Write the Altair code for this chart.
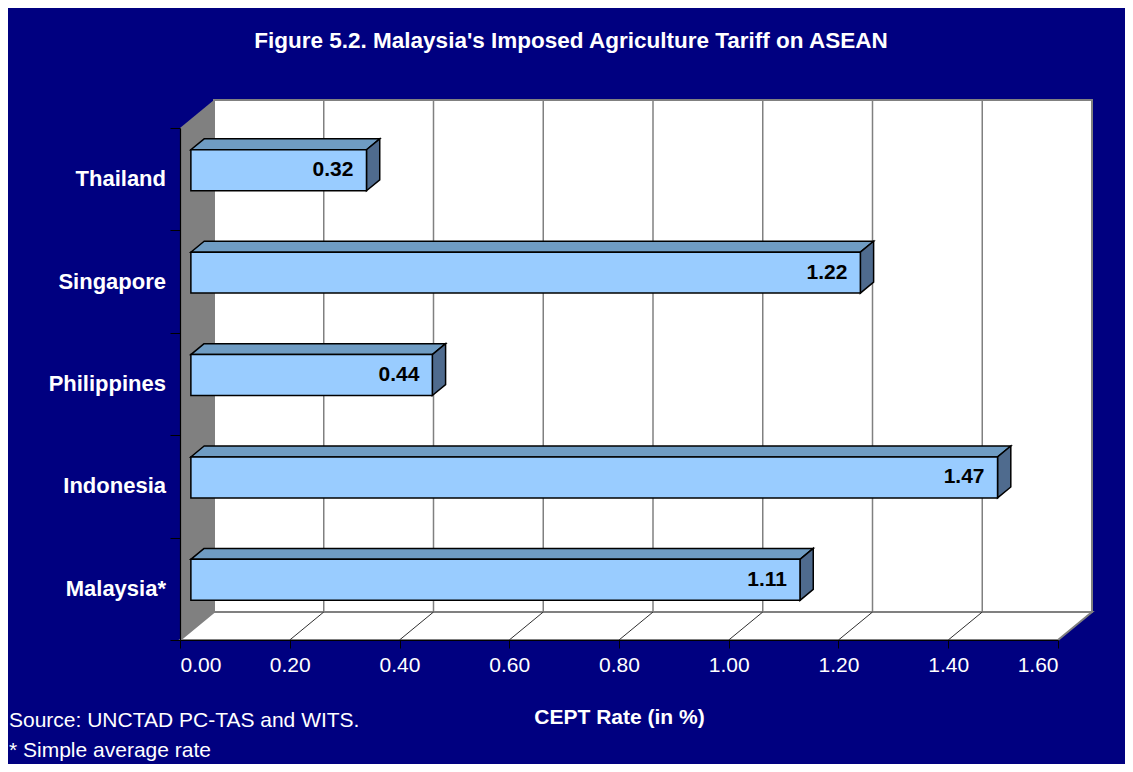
import altair as alt
import pandas as pd

# ---- data (bottom to top) ----
countries = ["Malaysia*", "Indonesia", "Philippines", "Singapore", "Thailand"]
values = [1.11, 1.47, 0.44, 1.22, 0.32]
x_ticks = [0.0, 0.2, 0.4, 0.6, 0.8, 1.0, 1.2, 1.4, 1.6]
title_text = "Figure 5.2. Malaysia's Imposed Agriculture Tariff on ASEAN"
x_title = "CEPT Rate (in %)"
notes = ["Source: UNCTAD PC-TAS and WITS.", "* Simple average rate"]

# ---- layout / style ----
W, H = 878, 512
XMAX = x_ticks[-1]
NCAT = len(countries)
DEPTH_PX = (34, 28)                  # 3-D depth of the plot box, in pixels
DX = DEPTH_PX[0] * XMAX / W          # same depth in data units
DY = DEPTH_PX[1] * NCAT / H
T_FRONT, T_BACK = 0.32, 0.71         # bar front / back depth fractions
HALF = 0.2                           # half bar thickness (category units)
FONT = "Liberation Sans, Arial, sans-serif"
NAVY = "#000080"

xs = alt.Scale(domain=[0, XMAX], nice=False, zero=True)
ys = alt.Scale(domain=[0, NCAT], nice=False, zero=True)

AX_X = alt.Axis(values=x_ticks, format=".2f", grid=False, title=x_title,
                labelColor="white", labelFont=FONT, labelFontSize=21,
                labelPadding=6, tickColor="black", tickSize=8, tickWidth=1,
                domainColor="black", domainWidth=1.2,
                titleColor="white", titleFont=FONT, titleFontSize=21,
                titleFontWeight="bold", titlePadding=31, zindex=1)
AX_Y = alt.Axis(values=list(range(NCAT + 1)), labels=False, grid=False,
                title=None, tickColor="black", tickSize=10, tickWidth=1,
                domainColor="black", domainWidth=1.2, zindex=1)


def X(f="x"):
    return alt.X(f, type="quantitative", scale=xs, axis=AX_X)


def Y(f="y"):
    return alt.Y(f, type="quantitative", scale=ys, axis=AX_Y)


# ---- box: left wall, back wall, floor ----
left_wall = pd.DataFrame({"x": [0, DX], "y": [0, DY], "y2": [NCAT, NCAT + DY]})
back_wall = pd.DataFrame({"x": [DX], "x2": [XMAX + DX], "y": [DY], "y2": [NCAT + DY]})
floor = pd.DataFrame({"y": [0, DY], "x": [0, DX], "x2": [XMAX, XMAX + DX]})
inner = x_ticks[1:-1]
grid_back = pd.DataFrame({"x": [t + DX for t in inner], "y": DY, "y2": NCAT + DY})
grid_floor = pd.DataFrame({"x": inner, "x2": [t + DX for t in inner], "y": 0.0, "y2": DY})

lw = alt.Chart(left_wall).mark_area(orient="vertical", color="#808080").encode(
    x=X(), y=Y(), y2="y2")
bw = alt.Chart(back_wall).mark_rect(fill="white", stroke="#808080", strokeWidth=2).encode(
    x=X(), x2="x2", y=Y(), y2="y2")
fl = alt.Chart(floor).mark_area(orient="horizontal", fill="white", stroke="#808080",
                                strokeWidth=2).encode(x=X(), x2="x2", y=Y())
gb = alt.Chart(grid_back).mark_rule(color="#808080", strokeWidth=1.5).encode(
    x=X(), y=Y(), y2="y2")
gf = alt.Chart(grid_floor).mark_rule(color="#303030", strokeWidth=1).encode(
    x=X(), x2="x2", y=Y(), y2="y2")

# ---- bars ----
front_rows, top_rows, side_rows, lab_rows = [], [], [], []
for i, (c, v) in enumerate(zip(countries, values)):
    cy = i + 0.5
    front_rows.append({"c": c, "x": T_FRONT * DX, "x2": v + T_FRONT * DX,
                       "y": cy - HALF + T_FRONT * DY, "y2": cy + HALF + T_FRONT * DY})
    for t in (T_FRONT, T_BACK):
        top_rows.append({"c": c, "y": cy + HALF + t * DY, "x": t * DX, "x2": v + t * DX})
        side_rows.append({"c": c, "x": v + t * DX,
                          "y": cy - HALF + t * DY, "y2": cy + HALF + t * DY})
    lab_rows.append({"c": c, "v": f"{v:.2f}", "x": v + T_FRONT * DX, "y": cy + T_FRONT * DY,
                     "x0": 0.0, "cy": cy})
front = pd.DataFrame(front_rows)
top = pd.DataFrame(top_rows)
side = pd.DataFrame(side_rows)
labs = pd.DataFrame(lab_rows)

bar_top = alt.Chart(top).mark_area(orient="horizontal", fill="#6F9CC3", stroke="black",
                                   strokeWidth=1.5).encode(x=X(), x2="x2", y=Y(), detail="c")
bar_side = alt.Chart(side).mark_area(orient="vertical", fill="#4F6B8E", stroke="black",
                                     strokeWidth=1.5).encode(x=X(), y=Y(), y2="y2", detail="c")
bar_front = alt.Chart(front).mark_rect(fill="#99CCFF", stroke="black", strokeWidth=1.5).encode(
    x=X(), x2="x2", y=Y(), y2="y2")
bar_text = alt.Chart(labs).mark_text(align="right", baseline="middle", dx=-13, font=FONT,
                                     fontSize=21, fontWeight="bold", color="black").encode(
    x=X(), y=Y(), text="v")
cat_text = alt.Chart(labs).mark_text(align="right", baseline="middle", dx=-14, font=FONT,
                                     fontSize=22, fontWeight="bold", color="white").encode(
    x=X("x0"), y=Y("cy"), text="c")

# ---- title and notes ----
ttl = alt.Chart(pd.DataFrame({"t": [title_text]})).mark_text(
    align="center", baseline="alphabetic", font=FONT, fontSize=22.5, fontWeight="bold",
    color="white").encode(x=alt.value(391), y=alt.value(-80), text="t")
nts = alt.Chart(pd.DataFrame({"t": ["\n".join(notes)]})).mark_text(
    align="left", baseline="alphabetic", font=FONT, fontSize=21, color="white",
    lineBreak="\n", lineHeight=30).encode(x=alt.value(-171), y=alt.value(599), text="t")

chart = alt.layer(lw, bw, fl, gb, gf, bar_top, bar_side, bar_front, bar_text, cat_text,
                  ttl, nts).properties(
    width=W, height=H,
    autosize=alt.AutoSizeParams(type="none"),
    padding={"left": 172, "top": 120, "right": 67, "bottom": 124},
    background=NAVY,
).configure_view(stroke="transparent")

chart.save("out.html", embed_options={"renderer": "svg", "actions": False})
